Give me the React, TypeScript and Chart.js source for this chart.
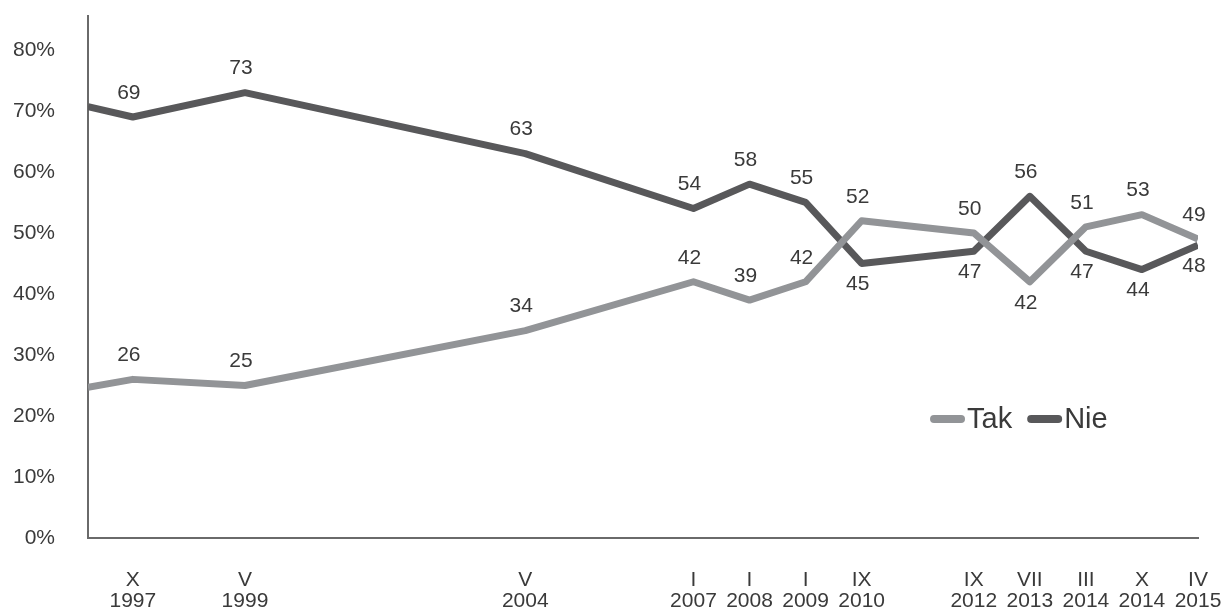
import React, { useEffect, useRef } from "react";
import { Chart, registerables } from "chart.js";

Chart.register(...registerables);

// ---- data ----
const surveyMonths = ["X", "V", "V", "I", "I", "I", "IX", "IX", "VII", "III", "X", "IV"];
const surveyYears = ["1997", "1999", "2004", "2007", "2008", "2009", "2010", "2012", "2013", "2014", "2014", "2015"];
// position of each survey on the chart's slot axis
const surveySlots = [0, 2, 7, 10, 11, 12, 13, 15, 16, 17, 18, 19];
const takValues = [26, 25, 34, 42, 39, 42, 52, 50, 42, 51, 53, 49];
const nieValues = [69, 73, 63, 54, 58, 55, 45, 47, 56, 47, 44, 48];
// the lines enter from the left edge of the plot (earlier survey, cut off)
const startSlot = -0.8;
const takStart = 24.7;
const nieStart = 70.7;
const yTickValues = [0, 10, 20, 30, 40, 50, 60, 70, 80];
const seriesNames = ["Tak", "Nie"];
// where each value label sits relative to its point
const takLabelSide = ["above", "above", "above", "above", "above", "above", "above", "above", "below", "above", "above", "above"];
const nieLabelSide = ["above", "above", "above", "above", "above", "above", "below", "below", "above", "below", "below", "below"];

const TEXT = "#3a3a3a";
const TAK_COLOR = "#929497";
const NIE_COLOR = "#58585a";
const AXIS_COLOR = "#6a6a6a";
const FONT_FAMILY = '"Liberation Sans", Arial, sans-serif';

const valueLabelsPlugin = {
  id: "valueLabels",
  afterDatasetsDraw(chart: any) {
    const ctx = chart.ctx;
    ctx.save();
    ctx.font = `21px ${FONT_FAMILY}`;
    ctx.fillStyle = TEXT;
    ctx.textAlign = "center";
    ctx.textBaseline = "middle";
    chart.data.datasets.forEach((ds: any, di: number) => {
      const meta = chart.getDatasetMeta(di);
      meta.data.forEach((pt: any, i: number) => {
        const side = ds.labelSides[i];
        if (!side) return;
        const v = ds.data[i].y;
        const dy = side === "above" ? -24 : 21;
        ctx.fillText(String(v), pt.x - 4, pt.y + dy);
      });
    });
    ctx.restore();
  },
};

const inlineLegendPlugin = {
  id: "inlineLegend",
  afterDraw(chart: any, _args: any, opts: any) {
    const ctx = chart.ctx;
    const xs = chart.scales.x;
    const ys = chart.scales.y;
    let x = xs.getPixelForValue(opts.xValue);
    const y = ys.getPixelForValue(opts.yValue);
    ctx.save();
    ctx.font = `29px ${FONT_FAMILY}`;
    ctx.textBaseline = "middle";
    ctx.textAlign = "left";
    chart.data.datasets.forEach((ds: any) => {
      ctx.strokeStyle = ds.borderColor;
      ctx.lineWidth = 8;
      ctx.lineCap = "round";
      ctx.beginPath();
      ctx.moveTo(x + 4, y);
      ctx.lineTo(x + 31, y);
      ctx.stroke();
      ctx.fillStyle = TEXT;
      ctx.fillText(ds.label, x + 37, y + 1);
      x += 37 + ctx.measureText(ds.label).width + 15;
    });
    ctx.restore();
  },
};

export default function App() {
  const canvasRef = useRef<HTMLCanvasElement | null>(null);

  useEffect(() => {
    document.body.style.margin = "0";
    const canvas = canvasRef.current;
    if (!canvas) return;

    const takPoints = [{ x: startSlot, y: takStart }].concat(
      surveySlots.map((s, i) => ({ x: s, y: takValues[i] }))
    );
    const niePoints = [{ x: startSlot, y: nieStart }].concat(
      surveySlots.map((s, i) => ({ x: s, y: nieValues[i] }))
    );

    const chart = new Chart(canvas, {
      type: "line",
      data: {
        datasets: [
          {
            label: seriesNames[0],
            data: takPoints,
            borderColor: TAK_COLOR,
            backgroundColor: TAK_COLOR,
            borderWidth: 7,
            pointRadius: 0,
            borderJoinStyle: "round",
            tension: 0,
            labelSides: [null].concat(takLabelSide as any),
          } as any,
          {
            label: seriesNames[1],
            data: niePoints,
            borderColor: NIE_COLOR,
            backgroundColor: NIE_COLOR,
            borderWidth: 7,
            pointRadius: 0,
            borderJoinStyle: "round",
            tension: 0,
            labelSides: [null].concat(nieLabelSide as any),
          } as any,
        ],
      },
      options: {
        responsive: false,
        animation: false,
        events: [],
        layout: { padding: { left: 0, right: 25, top: 16, bottom: 0 } },
        plugins: {
          legend: { display: false },
          tooltip: { enabled: false },
          inlineLegend: { xValue: 14.22, yValue: 19.5 },
        } as any,
        scales: {
          x: {
            type: "linear",
            min: startSlot,
            max: 19,
            grid: { display: false, drawTicks: false },
            border: { display: true, color: AXIS_COLOR, width: 2 },
            afterBuildTicks: (scale: any) => {
              scale.ticks = surveySlots.map((v) => ({ value: v }));
            },
            afterFit: (scale: any) => {
              scale.height = 72;
              scale.paddingLeft = 0;
              scale.paddingRight = 0;
              scale.paddingTop = 0;
              scale.paddingBottom = 0;
            },
            ticks: {
              autoSkip: false,
              maxRotation: 0,
              minRotation: 0,
              padding: 32,
              color: TEXT,
              font: { family: FONT_FAMILY, size: 21, lineHeight: 1.0 },
              callback: (_v: any, i: number) => [surveyMonths[i], surveyYears[i]],
            },
          },
          y: {
            type: "linear",
            min: 0,
            max: 85.56,
            grid: { display: false, drawTicks: false },
            border: { display: true, color: AXIS_COLOR, width: 2 },
            afterBuildTicks: (scale: any) => {
              scale.ticks = yTickValues.map((v) => ({ value: v }));
            },
            afterFit: (scale: any) => {
              scale.width = 88;
              scale.paddingLeft = 0;
              scale.paddingRight = 0;
              scale.paddingTop = 0;
              scale.paddingBottom = 0;
            },
            ticks: {
              padding: 33,
              color: TEXT,
              font: { family: FONT_FAMILY, size: 21 },
              callback: (v: any) => `${v}%`,
            },
          },
        },
      },
      plugins: [valueLabelsPlugin, inlineLegendPlugin],
    });

    return () => {
      chart.destroy();
    };
  }, []);

  return (
    <div style={{ position: "absolute", left: 0, top: 0, width: 1223, height: 610, background: "#fff" }}>
      <canvas ref={canvasRef} width={1223} height={610} style={{ display: "block" }} />
    </div>
  );
}
